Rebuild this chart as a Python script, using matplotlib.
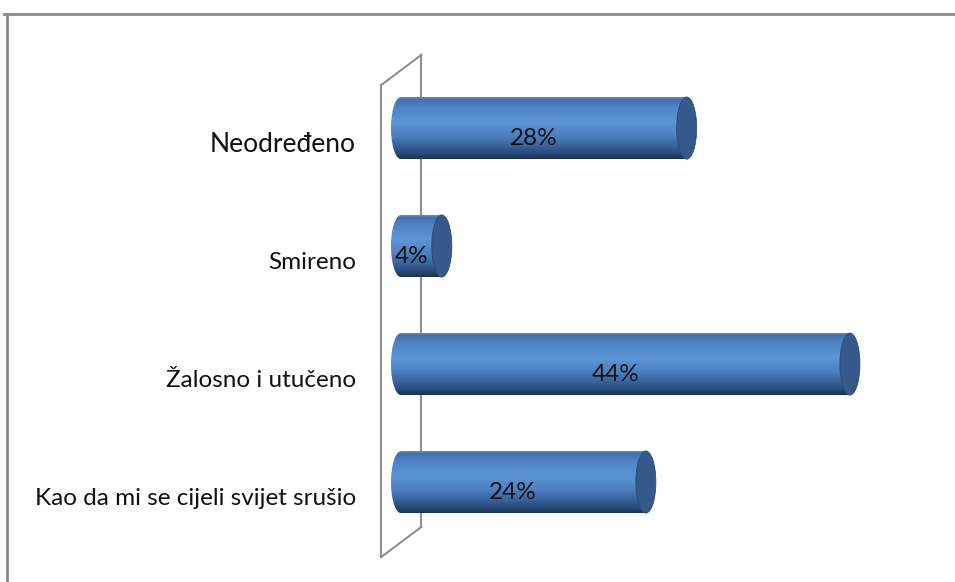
import numpy as np
import matplotlib
matplotlib.use('Agg')
import matplotlib.pyplot as plt
from matplotlib.patches import Ellipse, PathPatch
from matplotlib.path import Path
from matplotlib.lines import Line2D
from matplotlib.colors import LinearSegmentedColormap

# podaci
kategorije = ["Kao da mi se cijeli svijet srušio", "Žalosno i utučeno", "Smireno", "Neodređeno"]
postotci = [24, 44, 4, 28]
oznake = ["24%", "44%", "4%", "28%"]

FONT = ['Lato', 'DejaVu Sans']
KAPA = "#34598a"
ZID = "#8f8f8f"

cmap = LinearSegmentedColormap.from_list("cil", [
    (0.00, "#1d3252"),
    (0.10, "#2b4c7e"),
    (0.35, "#4a7dbf"),
    (0.58, "#5c95d5"),
    (0.82, "#4f84c6"),
    (0.95, "#426fae"),
    (1.00, "#7a9ccc"),
])

fig = plt.figure(figsize=(9.55, 5.82), dpi=100)
fig.patch.set_facecolor("white")
ax = fig.add_axes([0, 0, 1, 1])
ax.set_xlim(-39.3, 54.3)
ax.set_ylim(-0.847, 4.085)
ax.axis("off")

# okvir grafikona
fig.add_artist(Line2D([0.004, 1.0], [0.976, 0.976], color="#8a8a8a", lw=2))
fig.add_artist(Line2D([0.0073, 0.0073], [0.0, 0.976], color="#8a8a8a", lw=2))

# 3D zid iza stupaca
ax.plot([2.0, 2.0], [-0.38, 3.62], color=ZID, lw=1.5, zorder=1)
ax.plot([-1.95, -1.95], [-0.636, 3.364], color=ZID, lw=1.5, zorder=1)
ax.plot([-1.95, 2.0], [3.364, 3.62], color=ZID, lw=1.5, zorder=1)
ax.plot([-1.95, 2.0], [-0.636, -0.38], color=ZID, lw=1.5, zorder=1)

a = 0.98   # poluos elipse (x)
h = 0.263  # polovica visine cilindra
y_pos = np.arange(len(kategorije))

grad = np.linspace(0, 1, 256).reshape(-1, 1)
for y, v, lab, kat in zip(y_pos, postotci, oznake, kategorije):
    # tijelo cilindra: desno dolje -> desno gore -> lijevi polukrug
    t = np.linspace(np.pi / 2, 3 * np.pi / 2, 40)
    xs = np.concatenate([[v, v], a * np.cos(t)])
    ys = np.concatenate([[y - h, y + h], y + h * np.sin(t)])
    verts = np.column_stack([xs, ys])
    verts = np.vstack([verts, verts[:1]])
    codes = [Path.MOVETO] + [Path.LINETO] * (len(verts) - 2) + [Path.CLOSEPOLY]
    tijelo = PathPatch(Path(verts, codes), facecolor="none", edgecolor="none")
    ax.add_patch(tijelo)
    im = ax.imshow(grad, cmap=cmap, origin="lower", aspect="auto",
                   extent=(-a, v + a, y - h, y + h), zorder=3)
    im.set_clip_path(tijelo)
    ax.add_patch(Ellipse((v, y), 2 * a, 2 * h, facecolor=KAPA,
                         edgecolor="#2c4b75", lw=0.6, zorder=4))
    ax.text(v / 2 - 1.0, y - 0.085, lab, ha="center", va="center",
            fontsize=17.5, color="#111111", family=FONT, zorder=5)
    vel = 19 if kat == "Neodređeno" else 17.5
    ax.text(-4.4, y - 0.136, kat, ha="right", va="center",
            fontsize=vel, color="#111111", family=FONT)

fig.savefig("out.png", dpi=100, facecolor="white")
